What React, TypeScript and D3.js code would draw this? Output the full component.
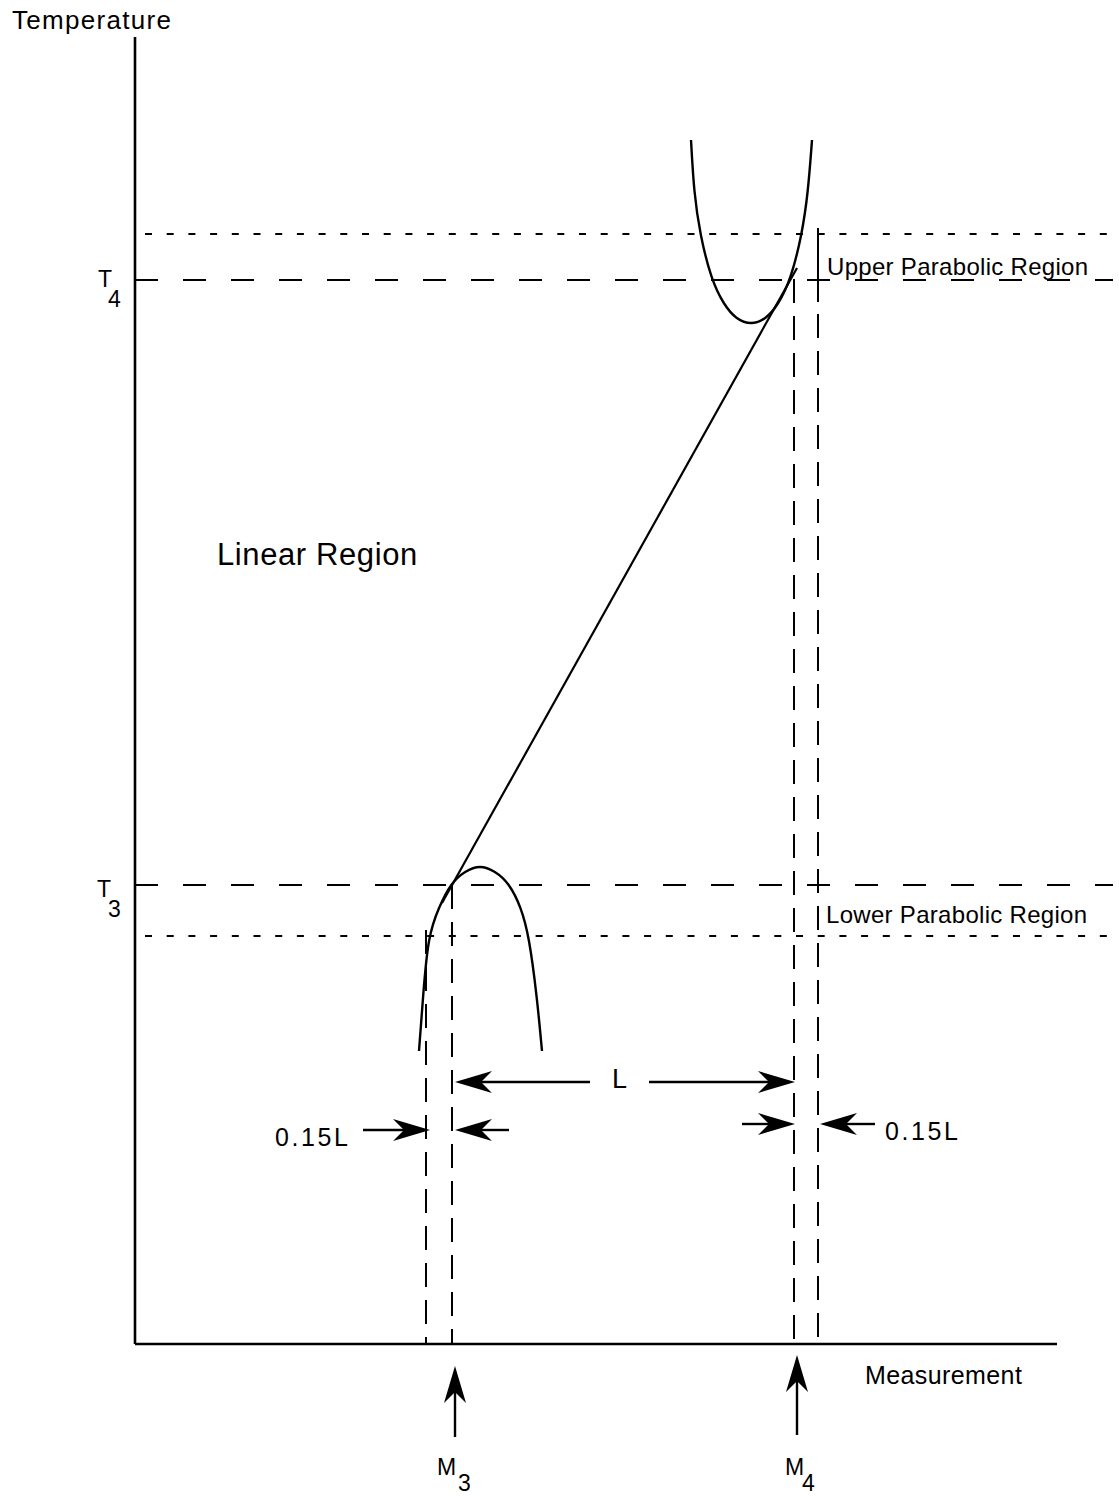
import React from "react";
import * as d3 from "d3";

// ---- Data (units measured along the axes from the origin) ----
const axisExtent = { x: 922, y: 1307 };
const levels = [
  { name: "T4", value: 1064, kind: "dash" },
  { name: "T4 + band", value: 1110, kind: "dot" },
  { name: "T3", value: 459, kind: "dash" },
  { name: "T3 - band", value: 408, kind: "dot" },
];
const levelStart = { dash: 0, dot: 10 };
const levelEnd = 978;

const verticals = [
  { name: "M3 - 0.15L", x: 291, top: 414 },
  { name: "M3", x: 317, top: 459 },
  { name: "M4", x: 659, top: 1065 },
  { name: "M4 + 0.15L", x: 683, top: 1116, solidTo: 1042 },
];

const linearSegment: [number, number][] = [
  [307, 441],
  [662, 1076],
];

const upperCurve: [number, number][] = [
  [556, 1204], [559, 1151], [565, 1110], [576, 1065], [589, 1039], [601, 1025],
  [616, 1019], [631, 1025], [643, 1039], [656, 1065], [667, 1110], [673, 1151], [677, 1204],
];

const lowerCurve: [number, number][] = [
  [284, 293], [288, 347], [293, 408], [304, 437], [316, 461], [330, 473],
  [345, 479], [360, 473], [374, 461], [386, 437], [394, 408], [402, 347], [407, 293],
];

const arrows = [
  { tail: [455, 262], tip: [320, 262] },
  { tail: [514, 262], tip: [660, 262] },
  { tail: [228, 214], tip: [295, 214] },
  { tail: [374, 214], tip: [320, 214] },
  { tail: [607, 220], tip: [660, 220] },
  { tail: [740, 220], tip: [685, 220] },
  { tail: [320, -93], tip: [320, -22] },
  { tail: [662, -91], tip: [662, -11] },
];

const labels = [
  { text: "Temperature", x: -123, y: 1315, size: 26, ls: 1.3 },
  { text: "Linear Region", x: 82, y: 779, size: 31, ls: 0.6 },
  { text: "Upper Parabolic Region", x: 692, y: 1069, size: 24, ls: 0.3 },
  { text: "Lower Parabolic Region", x: 691, y: 421, size: 24, ls: 0.3 },
  { text: "L", x: 477, y: 256, size: 27, ls: 0 },
  { text: "0.15L", x: 140, y: 198, size: 25, ls: 2.6 },
  { text: "0.15L", x: 750, y: 204, size: 25, ls: 2.6 },
  { text: "Measurement", x: 730, y: -40, size: 25, ls: 0.4 },
];

const subLabels = [
  { main: "T", sub: "4", x: -37, y: 1057, sx: -27, sy: 1037 },
  { main: "T", sub: "3", x: -38, y: 447, sx: -27, sy: 427 },
  { main: "M", sub: "3", x: 302, y: -131, sx: 323, sy: -147 },
  { main: "M", sub: "4", x: 650, y: -131, sx: 667, sy: -147 },
];

// ---- Layout ----
const W = 1119;
const H = 1496;
const x0 = 135;
const y0 = 1344;

export default function App() {
  const x = d3.scaleLinear().domain([0, axisExtent.x]).range([x0, x0 + axisExtent.x]);
  const y = d3.scaleLinear().domain([0, axisExtent.y]).range([y0, y0 - axisExtent.y]);

  const curveLine = d3
    .line<[number, number]>()
    .x((d) => x(d[0]))
    .y((d) => y(d[1]))
    .curve(d3.curveBasis);
  const straight = d3
    .line<[number, number]>()
    .x((d) => x(d[0]))
    .y((d) => y(d[1]));

  const font = "'Liberation Sans', Arial, sans-serif";
  const head = "M0,0 L-37,-11 L-26,0 L-37,11 Z";

  return (
    <svg
      width={W}
      height={H}
      style={{ position: "absolute", left: 0, top: 0, display: "block", background: "#fff" }}
    >
      {/* axes */}
      <line x1={x(0)} y1={y(0)} x2={x(0)} y2={y(axisExtent.y)} stroke="#000" strokeWidth={2.6} />
      <line x1={x(0)} y1={y(0)} x2={x(axisExtent.x)} y2={y(0)} stroke="#000" strokeWidth={2.6} />

      {/* horizontal levels */}
      {levels.map((l) => (
        <line
          key={l.name}
          x1={x(levelStart[l.kind as "dash" | "dot"])}
          x2={x(levelEnd)}
          y1={y(l.value)}
          y2={y(l.value)}
          stroke="#000"
          strokeWidth={2}
          strokeDasharray={l.kind === "dash" ? "23 25" : "7 14.7"}
        />
      ))}

      {/* vertical guides */}
      {verticals.map((v) => (
        <g key={v.name}>
          {v.solidTo !== undefined && (
            <line x1={x(v.x)} x2={x(v.x)} y1={y(v.top)} y2={y(v.solidTo)} stroke="#000" strokeWidth={2} />
          )}
          <line
            x1={x(v.x)}
            x2={x(v.x)}
            y1={y(v.solidTo !== undefined ? v.solidTo - 12 : v.top)}
            y2={y(0)}
            stroke="#000"
            strokeWidth={2}
            strokeDasharray="24 13"
          />
        </g>
      ))}

      {/* curves */}
      <path d={curveLine(upperCurve) || ""} fill="none" stroke="#000" strokeWidth={2.4} />
      <path d={curveLine(lowerCurve) || ""} fill="none" stroke="#000" strokeWidth={2.4} />
      <path d={straight(linearSegment) || ""} fill="none" stroke="#000" strokeWidth={2.2} />

      {/* arrows */}
      {arrows.map((a, i) => {
        const tx = x(a.tip[0]);
        const ty = y(a.tip[1]);
        const sx = x(a.tail[0]);
        const sy = y(a.tail[1]);
        const ang = (Math.atan2(ty - sy, tx - sx) * 180) / Math.PI;
        const len = Math.hypot(tx - sx, ty - sy);
        const ex = sx + ((tx - sx) * (len - 26)) / len;
        const ey = sy + ((ty - sy) * (len - 26)) / len;
        return (
          <g key={i}>
            <line x1={sx} y1={sy} x2={ex} y2={ey} stroke="#000" strokeWidth={2.4} />
            <path d={head} transform={`translate(${tx},${ty}) rotate(${ang})`} fill="#000" />
          </g>
        );
      })}

      {/* labels */}
      {labels.map((l, i) => (
        <text
          key={i}
          x={x(l.x)}
          y={y(l.y)}
          fontFamily={font}
          fontSize={l.size}
          letterSpacing={l.ls}
          fill="#000"
        >
          {l.text}
        </text>
      ))}
      {subLabels.map((s, i) => (
        <g key={i} fontFamily={font} fontSize={23} fill="#000">
          <text x={x(s.x)} y={y(s.y)}>{s.main}</text>
          <text x={x(s.sx)} y={y(s.sy)}>{s.sub}</text>
        </g>
      ))}
    </svg>
  );
}
